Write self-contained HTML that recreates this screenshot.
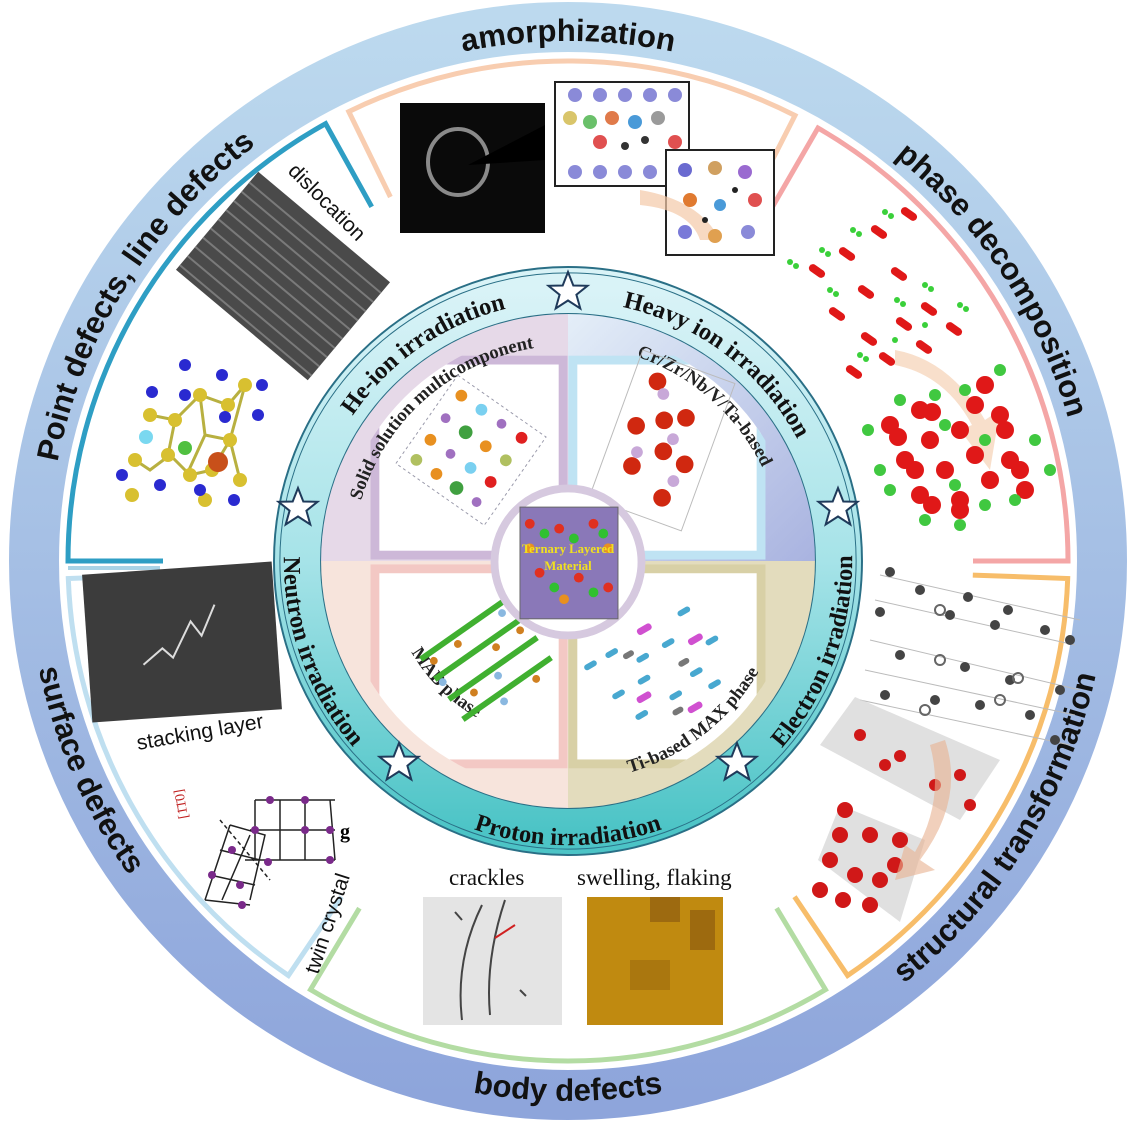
<!DOCTYPE html>
<html><head><meta charset="utf-8"><style>
html,body{margin:0;padding:0;background:#fff;}
svg{display:block}
.ot{font-family:"Liberation Sans",sans-serif;font-weight:bold;font-size:31px;fill:#111}
.it{font-family:"Liberation Serif",serif;font-weight:bold;font-size:25px;fill:#111}
.qt{font-family:"Liberation Serif",serif;font-weight:bold;font-size:19px;fill:#222}
.lb{font-family:"Liberation Sans",sans-serif;font-size:21px;fill:#111}
.sl{font-family:"Liberation Serif",serif;font-size:23px;fill:#111}
</style></head><body>
<svg width="1137" height="1123" viewBox="0 0 1137 1123" xmlns="http://www.w3.org/2000/svg">
<defs>
<linearGradient id="og" x1="0" y1="0" x2="0" y2="1"><stop offset="0" stop-color="#bcd9ee"/><stop offset="1" stop-color="#8ea5db"/></linearGradient>
<linearGradient id="tg" x1="0" y1="0" x2="0" y2="1"><stop offset="0" stop-color="#d9f3f7"/><stop offset="0.5" stop-color="#a6e3e8"/><stop offset="1" stop-color="#4cc4c6"/></linearGradient>
<linearGradient id="trg" x1="0" y1="0" x2="1" y2="1"><stop offset="0" stop-color="#e4eef8"/><stop offset="1" stop-color="#a9b3e0"/></linearGradient>
<clipPath id="qc"><circle cx="569" cy="573" r="252"/></clipPath>
<clipPath id="wc"><circle cx="569" cy="573" r="236"/></clipPath>
<path id="otop" d="M 48 561 A 520 520 0 0 1 1088 561"/>
<path id="obot" d="M 28 561 A 540 540 0 0 0 1108 561"/>
<path id="itop" d="M 304 573 A 265 265 0 0 1 834 573"/>
<path id="ibot" d="M 296.5 473.8 A 290 290 0 1 0 841.5 473.8"/>
<path id="qtl" d="M 349 573 A 220 220 0 0 1 789 573"/>
<path id="qbl" d="M 360.4 657.3 A 225 225 0 0 0 777.6 657.3"/>
<path id="qmab" d="M 384 573 A 185 185 0 0 0 569 758"/>
<g id="star"><polygon points="0,-20 5.3,-6.5 19.5,-6.2 8.4,2.7 12.3,16.5 0,8.5 -12.3,16.5 -8.4,2.7 -19.5,-6.2 -5.3,-6.5" fill="#fff" stroke="#1f3a5a" stroke-width="2"/></g>
</defs>

<!-- outer ring -->
<circle cx="568" cy="561" r="534" fill="none" stroke="url(#og)" stroke-width="50"/>

<!-- sector arcs -->
<g fill="none" stroke-width="5">
<path d="M 163 561 L 68 561 A 500 500 0 0 1 325.6 123.7 L 371.7 206.8" stroke="#2e9ec4"/>
<line x1="68" y1="568" x2="160" y2="568" stroke="#a9d3e6" stroke-width="4"/>
<path d="M 390.4 197 L 348.8 111.6 A 500 500 0 0 1 795 115.5 L 751.9 200.1" stroke="#f8cdb0"/>
<path d="M 770.5 210.3 L 818 128 A 500 500 0 0 1 1068 561 L 973 561" stroke="#f4a6a6"/>
<path d="M 972.8 575.1 L 1067.7 578.5 A 500 500 0 0 1 847.6 975.5 L 794.5 896.7" stroke="#f7bd6a"/>
<path d="M 776.6 908.2 L 825.5 989.6 A 500 500 0 0 1 310.5 989.6 L 359.4 908.2" stroke="#b3dca3"/>
<path d="M 341.5 896.7 L 288.4 975.5 A 500 500 0 0 1 68.3 578.5 L 163.2 575.1" stroke="#bfdff0"/>
</g>

<!-- outer labels -->
<text class="ot"><textPath href="#otop" startOffset="50%" text-anchor="middle">amorphization</textPath></text>
<text class="ot"><textPath href="#otop" startOffset="81.4%" text-anchor="middle">phase decomposition</textPath></text>
<text class="ot"><textPath href="#otop" startOffset="17.8%" text-anchor="middle">Point defects, line defects</textPath></text>
<text class="ot"><textPath href="#obot" startOffset="50%" text-anchor="middle">body defects</textPath></text>
<text class="ot"><textPath href="#obot" startOffset="82.3%" text-anchor="middle">structural transformation</textPath></text>
<text class="ot"><textPath href="#obot" startOffset="13.1%" text-anchor="middle">surface  defects</textPath></text>

<!-- amorphization images -->
<rect x="400" y="103" width="145" height="130" fill="#0a0a0a"/>
<ellipse cx="458" cy="162" rx="30" ry="33" fill="none" stroke="#8a8a8a" stroke-width="4"/>
<path d="M 468 165 L 545 125 L 545 160 Z" fill="#000"/>
<rect x="555" y="82" width="134" height="104" fill="#fff" stroke="#222" stroke-width="2"/>
<g fill="#8a8ad8"><circle cx="575" cy="95" r="7"/><circle cx="600" cy="95" r="7"/><circle cx="625" cy="95" r="7"/><circle cx="650" cy="95" r="7"/><circle cx="675" cy="95" r="7"/><circle cx="575" cy="172" r="7"/><circle cx="600" cy="172" r="7"/><circle cx="625" cy="172" r="7"/><circle cx="650" cy="172" r="7"/><circle cx="675" cy="172" r="7"/></g>
<g><circle cx="570" cy="118" r="7" fill="#d9c56a"/><circle cx="590" cy="122" r="7" fill="#6ac06a"/><circle cx="612" cy="118" r="7" fill="#e07a4a"/><circle cx="635" cy="122" r="7" fill="#4a9ad8"/><circle cx="658" cy="118" r="7" fill="#9a9a9a"/><circle cx="675" cy="142" r="7" fill="#e05050"/><circle cx="600" cy="142" r="7" fill="#e05050"/><circle cx="625" cy="146" r="4" fill="#333"/><circle cx="645" cy="140" r="4" fill="#333"/></g>
<rect x="666" y="150" width="108" height="105" fill="#fff" stroke="#222" stroke-width="2"/>
<path d="M 640 190 Q 700 200 720 240 L 700 240 Q 690 210 640 205 Z" fill="#f3c9a8" opacity="0.7"/>
<g><circle cx="685" cy="170" r="7" fill="#6a6ad0"/><circle cx="715" cy="168" r="7" fill="#d0a060"/><circle cx="745" cy="172" r="7" fill="#9a6ad0"/><circle cx="690" cy="200" r="7" fill="#e07a30"/><circle cx="720" cy="205" r="6" fill="#4a9ad8"/><circle cx="755" cy="200" r="7" fill="#e05050"/><circle cx="685" cy="232" r="7" fill="#7a7ad8"/><circle cx="715" cy="236" r="7" fill="#e0a050"/><circle cx="748" cy="232" r="7" fill="#8a8ad8"/><circle cx="735" cy="190" r="3" fill="#222"/><circle cx="705" cy="220" r="3" fill="#222"/></g>

<!-- dislocation -->
<g transform="translate(283,276) rotate(40)">
<rect x="-86" y="-64" width="172" height="128" fill="#4a4a4a"/>
<g stroke="#7a7a7a" stroke-width="2"><line x1="-86" y1="-50" x2="86" y2="-50"/><line x1="-86" y1="-38" x2="86" y2="-38"/><line x1="-86" y1="-26" x2="86" y2="-26"/><line x1="-86" y1="-14" x2="86" y2="-14"/><line x1="-86" y1="-2" x2="86" y2="-2"/><line x1="-86" y1="10" x2="86" y2="10"/><line x1="-86" y1="22" x2="86" y2="22"/><line x1="-86" y1="34" x2="86" y2="34"/><line x1="-86" y1="46" x2="86" y2="46"/><line x1="-86" y1="58" x2="86" y2="58"/></g>
</g>
<text class="lb" transform="translate(287,172) rotate(45)">dislocation</text>

<!-- point defect atoms -->
<g stroke="#b8b040" stroke-width="3" fill="none"><path d="M 150 415 L 175 420 L 200 395 L 228 405 L 245 385 L 230 440 L 212 470 L 190 475 L 170 455 L 150 470 L 135 460 M 200 395 L 205 435 L 188 472 M 205 435 L 230 440 L 240 480 M 175 420 L 168 455"/></g>
<g fill="#d8c030"><circle cx="150" cy="415" r="7"/><circle cx="175" cy="420" r="7"/><circle cx="200" cy="395" r="7"/><circle cx="228" cy="405" r="7"/><circle cx="245" cy="385" r="7"/><circle cx="168" cy="455" r="7"/><circle cx="190" cy="475" r="7"/><circle cx="212" cy="470" r="7"/><circle cx="230" cy="440" r="7"/><circle cx="240" cy="480" r="7"/><circle cx="135" cy="460" r="7"/><circle cx="205" cy="500" r="7"/><circle cx="132" cy="495" r="7"/></g>
<g fill="#2a2ad0"><circle cx="185" cy="365" r="6"/><circle cx="222" cy="375" r="6"/><circle cx="262" cy="385" r="6"/><circle cx="152" cy="392" r="6"/><circle cx="185" cy="395" r="6"/><circle cx="225" cy="417" r="6"/><circle cx="258" cy="415" r="6"/><circle cx="122" cy="475" r="6"/><circle cx="160" cy="485" r="6"/><circle cx="200" cy="490" r="6"/><circle cx="234" cy="500" r="6"/></g>
<circle cx="146" cy="437" r="7" fill="#7ad8f0"/><circle cx="185" cy="448" r="7" fill="#50c040"/><circle cx="218" cy="462" r="10" fill="#c8501a"/>

<!-- stacking layer -->
<g transform="translate(182,642) rotate(-4)"><rect x="-95" y="-74" width="190" height="148" fill="#3c3c3c"/>
<path d="M -40 20 L -20 5 L -10 15 L 10 -20 L 20 -5 L 35 -35" stroke="#ddd" stroke-width="2" fill="none"/></g>
<text class="lb" transform="translate(138,750) rotate(-10)">stacking layer</text>

<!-- twin crystal -->
<g stroke="#222" stroke-width="1.5" fill="none">
<path d="M 255 800 L 335 800 M 250 830 L 335 830 M 245 860 L 335 860 M 255 800 L 255 860 M 280 800 L 280 860 M 305 800 L 305 860 M 330 800 L 335 860"/>
<path d="M 230 825 L 265 835 L 250 900 M 220 850 L 260 860 M 210 875 L 255 885 M 205 900 L 250 905 M 230 825 L 205 900 M 250 835 L 222 900"/>
<line x1="220" y1="820" x2="270" y2="880" stroke-dasharray="4,3"/>
</g>
<g fill="#7a2a8a"><circle cx="270" cy="800" r="4"/><circle cx="305" cy="800" r="4"/><circle cx="255" cy="830" r="4"/><circle cx="305" cy="830" r="4"/><circle cx="330" cy="830" r="4"/><circle cx="268" cy="862" r="4"/><circle cx="330" cy="860" r="4"/><circle cx="232" cy="850" r="4"/><circle cx="212" cy="875" r="4"/><circle cx="240" cy="885" r="4"/><circle cx="242" cy="905" r="4"/></g>
<text font-family="Liberation Serif" font-size="14" transform="translate(188,818) rotate(-100)" style="fill:#c02020">[1̄1̄0]</text>
<text x="340" y="838" font-family="Liberation Serif" font-weight="bold" font-size="20">g</text>
<text class="lb" transform="translate(318,975) rotate(-72)">twin crystal</text>

<!-- crackles/swelling -->
<text class="sl" x="449" y="885">crackles</text>
<rect x="423" y="897" width="139" height="128" fill="#e4e4e4"/>
<path d="M 482 905 Q 455 960 462 1020 M 505 900 Q 485 960 490 1015 M 455 912 L 462 920 M 520 990 L 526 996" stroke="#444" stroke-width="2" fill="none"/>
<line x1="515" y1="925" x2="495" y2="938" stroke="#d02020" stroke-width="2"/>
<text class="sl" x="577" y="885">swelling, flaking</text>
<rect x="587" y="897" width="136" height="128" fill="#c08a10"/>
<rect x="650" y="897" width="30" height="25" fill="#7a4a10" opacity="0.5"/><rect x="690" y="910" width="25" height="40" fill="#6a3a10" opacity="0.4"/><rect x="630" y="960" width="40" height="30" fill="#8a5a10" opacity="0.4"/>

<!-- phase decomposition atoms -->
<g fill="#e01818"><rect x="900" y="210" width="18" height="8" rx="4" transform="rotate(35 909 214)"/><rect x="870" y="228" width="18" height="8" rx="4" transform="rotate(35 879 232)"/><rect x="838" y="250" width="18" height="8" rx="4" transform="rotate(35 847 254)"/><rect x="808" y="267" width="18" height="8" rx="4" transform="rotate(35 817 271)"/><rect x="890" y="270" width="18" height="8" rx="4" transform="rotate(35 899 274)"/><rect x="857" y="288" width="18" height="8" rx="4" transform="rotate(35 866 292)"/><rect x="920" y="305" width="18" height="8" rx="4" transform="rotate(35 929 309)"/><rect x="828" y="310" width="18" height="8" rx="4" transform="rotate(35 837 314)"/><rect x="895" y="320" width="18" height="8" rx="4" transform="rotate(35 904 324)"/><rect x="945" y="325" width="18" height="8" rx="4" transform="rotate(35 954 329)"/><rect x="860" y="335" width="18" height="8" rx="4" transform="rotate(35 869 339)"/><rect x="915" y="343" width="18" height="8" rx="4" transform="rotate(35 924 347)"/><rect x="878" y="355" width="18" height="8" rx="4" transform="rotate(35 887 359)"/><rect x="845" y="368" width="18" height="8" rx="4" transform="rotate(35 854 372)"/></g>
<g fill="#3ad03a"><circle cx="885" cy="212" r="3"/><circle cx="891" cy="216" r="3"/><circle cx="853" cy="230" r="3"/><circle cx="859" cy="234" r="3"/><circle cx="822" cy="250" r="3"/><circle cx="828" cy="254" r="3"/><circle cx="790" cy="262" r="3"/><circle cx="796" cy="266" r="3"/><circle cx="925" cy="285" r="3"/><circle cx="931" cy="289" r="3"/><circle cx="897" cy="300" r="3"/><circle cx="903" cy="304" r="3"/><circle cx="960" cy="305" r="3"/><circle cx="966" cy="309" r="3"/><circle cx="830" cy="290" r="3"/><circle cx="836" cy="294" r="3"/><circle cx="925" cy="325" r="3"/><circle cx="860" cy="355" r="3"/><circle cx="866" cy="359" r="3"/><circle cx="895" cy="340" r="3"/></g>
<path d="M 895 350 Q 950 360 985 420 L 1000 410 L 990 470 L 960 430 L 972 425 Q 945 375 895 365 Z" fill="#f3c9a8" opacity="0.6"/>
<g fill="#e01818"><circle cx="985" cy="385" r="9"/><circle cx="975" cy="405" r="9"/><circle cx="920" cy="410" r="9"/><circle cx="932" cy="412" r="9"/><circle cx="890" cy="425" r="9"/><circle cx="898" cy="437" r="9"/><circle cx="960" cy="430" r="9"/><circle cx="1000" cy="415" r="9"/><circle cx="1005" cy="430" r="9"/><circle cx="930" cy="440" r="9"/><circle cx="905" cy="460" r="9"/><circle cx="915" cy="470" r="9"/><circle cx="975" cy="455" r="9"/><circle cx="1010" cy="460" r="9"/><circle cx="1020" cy="470" r="9"/><circle cx="945" cy="470" r="9"/><circle cx="920" cy="495" r="9"/><circle cx="990" cy="480" r="9"/><circle cx="960" cy="500" r="9"/><circle cx="932" cy="505" r="9"/><circle cx="1025" cy="490" r="9"/><circle cx="960" cy="510" r="9"/></g>
<g fill="#40c840"><circle cx="1000" cy="370" r="6"/><circle cx="965" cy="390" r="6"/><circle cx="935" cy="395" r="6"/><circle cx="900" cy="400" r="6"/><circle cx="868" cy="430" r="6"/><circle cx="945" cy="425" r="6"/><circle cx="985" cy="440" r="6"/><circle cx="1035" cy="440" r="6"/><circle cx="1050" cy="470" r="6"/><circle cx="880" cy="470" r="6"/><circle cx="890" cy="490" r="6"/><circle cx="955" cy="485" r="6"/><circle cx="1015" cy="500" r="6"/><circle cx="985" cy="505" r="6"/><circle cx="925" cy="520" r="6"/><circle cx="960" cy="525" r="6"/></g>

<!-- structural transformation -->
<g stroke="#bbb" stroke-width="1" fill="none"><path d="M 880 575 L 1080 620 M 875 600 L 1075 645 M 870 640 L 1080 690 M 865 670 L 1075 715 M 860 700 L 1070 745"/></g>
<g fill="#444"><circle cx="890" cy="572" r="5"/><circle cx="920" cy="590" r="5"/><circle cx="968" cy="597" r="5"/><circle cx="1008" cy="610" r="5"/><circle cx="1045" cy="630" r="5"/><circle cx="880" cy="612" r="5"/><circle cx="950" cy="615" r="5"/><circle cx="995" cy="625" r="5"/><circle cx="1070" cy="640" r="5"/><circle cx="900" cy="655" r="5"/><circle cx="965" cy="667" r="5"/><circle cx="1010" cy="680" r="5"/><circle cx="1060" cy="690" r="5"/><circle cx="885" cy="695" r="5"/><circle cx="935" cy="700" r="5"/><circle cx="980" cy="705" r="5"/><circle cx="1030" cy="715" r="5"/><circle cx="1055" cy="740" r="5"/></g>
<g fill="none" stroke="#666" stroke-width="2"><circle cx="940" cy="610" r="5"/><circle cx="940" cy="660" r="5"/><circle cx="1018" cy="678" r="5"/><circle cx="925" cy="710" r="5"/><circle cx="1000" cy="700" r="5"/></g>
<polygon points="820,745 855,697 1000,760 960,820" fill="#d8d8d8" opacity="0.8"/>
<polygon points="818,860 840,805 925,840 900,922" fill="#d8d8d8" opacity="0.8"/>
<g fill="#d01818"><circle cx="860" cy="735" r="6"/><circle cx="900" cy="756" r="6"/><circle cx="885" cy="765" r="6"/><circle cx="935" cy="785" r="6"/><circle cx="960" cy="775" r="6"/><circle cx="970" cy="805" r="6"/><circle cx="845" cy="810" r="8"/><circle cx="840" cy="835" r="8"/><circle cx="870" cy="835" r="8"/><circle cx="900" cy="840" r="8"/><circle cx="830" cy="860" r="8"/><circle cx="855" cy="875" r="8"/><circle cx="880" cy="880" r="8"/><circle cx="895" cy="865" r="8"/><circle cx="870" cy="905" r="8"/><circle cx="820" cy="890" r="8"/><circle cx="843" cy="900" r="8"/></g>
<path d="M 945 740 Q 965 800 920 860 L 935 870 L 895 880 L 905 845 L 915 852 Q 945 800 930 745 Z" fill="#e8b090" opacity="0.6"/>

<!-- inner block -->
<g transform="translate(568,561) scale(0.98) translate(-569,-573)">
<circle cx="569" cy="573" r="276" fill="none" stroke="url(#tg)" stroke-width="48"/>
<circle cx="569" cy="573" r="300" fill="none" stroke="#2a6f86" stroke-width="2"/>
<circle cx="569" cy="573" r="294" fill="none" stroke="#2a6f86" stroke-width="1"/>
<circle cx="569" cy="573" r="252" fill="none" stroke="#2a6f86" stroke-width="2"/>

<g clip-path="url(#qc)">
<rect x="317" y="321" width="252" height="252" fill="#e6d9e8"/>
<rect x="569" y="321" width="252" height="252" fill="url(#trg)"/>
<rect x="317" y="573" width="252" height="252" fill="#f7e4dc"/>
<rect x="569" y="573" width="252" height="252" fill="#e3dcbd"/>
</g>
<g clip-path="url(#wc)">
<rect x="372" y="368" width="192" height="199" fill="#fff" stroke="#cdb8d8" stroke-width="9"/>
<rect x="574" y="368" width="192" height="199" fill="#fff" stroke="#bfe3f3" stroke-width="9"/>
<rect x="372" y="581" width="192" height="199" fill="#fff" stroke="#f3c8c4" stroke-width="9"/>
<rect x="574" y="581" width="192" height="199" fill="#fff" stroke="#d8d0a6" stroke-width="9"/>
</g>
<text class="qt"><textPath href="#qtl" startOffset="27%" text-anchor="middle">Solid solution multicomponent</textPath></text>
<text class="qt"><textPath href="#qtl" startOffset="73%" text-anchor="middle">Cr/Zr/Nb/V/Ta-based</textPath></text>
<text class="qt"><textPath href="#qbl" startOffset="78%" text-anchor="middle">Ti-based MAX phase</textPath></text>
<text class="qt"><textPath href="#qmab" startOffset="50%" text-anchor="middle">MAB phase</textPath></text>

<g transform="translate(470,460) rotate(35)"><rect x="-55" y="-55" width="110" height="110" fill="none" stroke="#99a" stroke-dasharray="3,3"/>
<g><circle cx="-40" cy="-40" r="6" fill="#e89020"/><circle cx="-15" cy="-40" r="6" fill="#7ad0f0"/><circle cx="10" cy="-40" r="5" fill="#a070c0"/><circle cx="35" cy="-40" r="6" fill="#e02020"/><circle cx="-40" cy="-12" r="5" fill="#a070c0"/><circle cx="-15" cy="-12" r="7" fill="#40a040"/><circle cx="10" cy="-12" r="6" fill="#e89020"/><circle cx="35" cy="-12" r="6" fill="#b0c060"/><circle cx="-40" cy="15" r="6" fill="#e89020"/><circle cx="-15" cy="15" r="5" fill="#a070c0"/><circle cx="10" cy="15" r="6" fill="#7ad0f0"/><circle cx="35" cy="15" r="6" fill="#e02020"/><circle cx="-40" cy="40" r="6" fill="#b0c060"/><circle cx="-15" cy="40" r="6" fill="#e89020"/><circle cx="10" cy="40" r="7" fill="#40a040"/><circle cx="35" cy="40" r="5" fill="#a070c0"/></g></g>
<g transform="translate(665,450) rotate(20)"><rect x="-50" y="-80" width="100" height="160" fill="none" stroke="#bbb"/>
<g fill="#d02810"><circle cx="-25" cy="-55" r="9"/><circle cx="15" cy="-30" r="9"/><circle cx="-30" cy="-5" r="9"/><circle cx="5" cy="10" r="9"/><circle cx="30" cy="15" r="9"/><circle cx="-20" cy="35" r="9"/><circle cx="20" cy="55" r="9"/><circle cx="-5" cy="-20" r="9"/></g>
<g fill="#c8a8d8"><circle cx="-15" cy="-45" r="6"/><circle cx="-20" cy="20" r="6"/><circle cx="25" cy="35" r="6"/><circle cx="10" cy="-5" r="6"/></g></g>
<g transform="translate(485,672) rotate(-35)"><g fill="#40b030"><rect x="-55" y="-40" width="110" height="6"/><rect x="-55" y="-15" width="110" height="6"/><rect x="-55" y="10" width="110" height="6"/><rect x="-55" y="35" width="110" height="6"/></g>
<g fill="#d08020"><circle cx="-45" cy="-28" r="4"/><circle cx="-15" cy="-28" r="4"/><circle cx="15" cy="-3" r="4"/><circle cx="45" cy="-3" r="4"/><circle cx="-30" cy="22" r="4"/><circle cx="30" cy="47" r="4"/></g>
<g fill="#8ab8e0"><circle cx="-50" cy="-5" r="4"/><circle cx="0" cy="22" r="4"/><circle cx="40" cy="-28" r="4"/><circle cx="-10" cy="47" r="4"/></g></g>
<g transform="translate(665,680) rotate(-30)"><g fill="#48a8d0"><rect x="-70" y="-40" width="14" height="6" rx="3"/><rect x="-45" y="-40" width="14" height="6" rx="3"/><rect x="-20" y="-20" width="14" height="6" rx="3"/><rect x="10" y="-20" width="14" height="6" rx="3"/><rect x="40" y="-40" width="14" height="6" rx="3"/><rect x="-60" y="0" width="14" height="6" rx="3"/><rect x="-30" y="0" width="14" height="6" rx="3"/><rect x="20" y="20" width="14" height="6" rx="3"/><rect x="50" y="0" width="14" height="6" rx="3"/><rect x="-50" y="30" width="14" height="6" rx="3"/><rect x="-10" y="30" width="14" height="6" rx="3"/><rect x="30" y="40" width="14" height="6" rx="3"/></g>
<g fill="#d050d0"><rect x="-5" y="-45" width="16" height="7" rx="3"/><rect x="35" y="-10" width="16" height="7" rx="3"/><rect x="-40" y="15" width="16" height="7" rx="3"/><rect x="0" y="50" width="16" height="7" rx="3"/></g>
<g fill="#777"><rect x="-30" y="-30" width="12" height="6" rx="3"/><rect x="15" y="5" width="12" height="6" rx="3"/><rect x="-15" y="45" width="12" height="6" rx="3"/></g></g>

<circle cx="569" cy="574" r="75" fill="#fff" stroke="#d6c9df" stroke-width="8"/>
<rect x="520" y="518" width="100" height="114" fill="#8a78b8" stroke="#666"/>
<g fill="#e03020"><circle cx="530" cy="535" r="5"/><circle cx="560" cy="540" r="5"/><circle cx="595" cy="535" r="5"/><circle cx="540" cy="585" r="5"/><circle cx="580" cy="590" r="5"/><circle cx="610" cy="600" r="5"/></g>
<g fill="#30c030"><circle cx="545" cy="545" r="5"/><circle cx="575" cy="550" r="5"/><circle cx="605" cy="545" r="5"/><circle cx="555" cy="600" r="5"/><circle cx="595" cy="605" r="5"/></g>
<g fill="#e89020"><circle cx="530" cy="560" r="5"/><circle cx="565" cy="612" r="5"/><circle cx="610" cy="560" r="5"/></g>
<text x="569" y="565" font-family="Liberation Serif" font-weight="bold" font-size="13" fill="#f0e020" text-anchor="middle">Ternary Layered</text>
<text x="569" y="582" font-family="Liberation Serif" font-weight="bold" font-size="13" fill="#f0e020" text-anchor="middle">Material</text>

<text class="it"><textPath href="#itop" startOffset="30.6%" text-anchor="middle">He-ion irradiation</textPath></text>
<text class="it"><textPath href="#itop" startOffset="70.6%" text-anchor="middle">Heavy ion irradiation</textPath></text>
<text class="it"><textPath href="#ibot" startOffset="18.2%" text-anchor="middle">Neutron irradiation</textPath></text>
<text class="it"><textPath href="#ibot" startOffset="50%" text-anchor="middle">Proton irradiation</textPath></text>
<text class="it"><textPath href="#ibot" startOffset="81.8%" text-anchor="middle">Electron irradiation</textPath></text>
</g>

<use href="#star" x="568" y="292"/>
<use href="#star" x="298" y="508"/>
<use href="#star" x="838" y="508"/>
<use href="#star" x="399" y="763"/>
<use href="#star" x="737" y="763"/>
</svg>
</body></html>
